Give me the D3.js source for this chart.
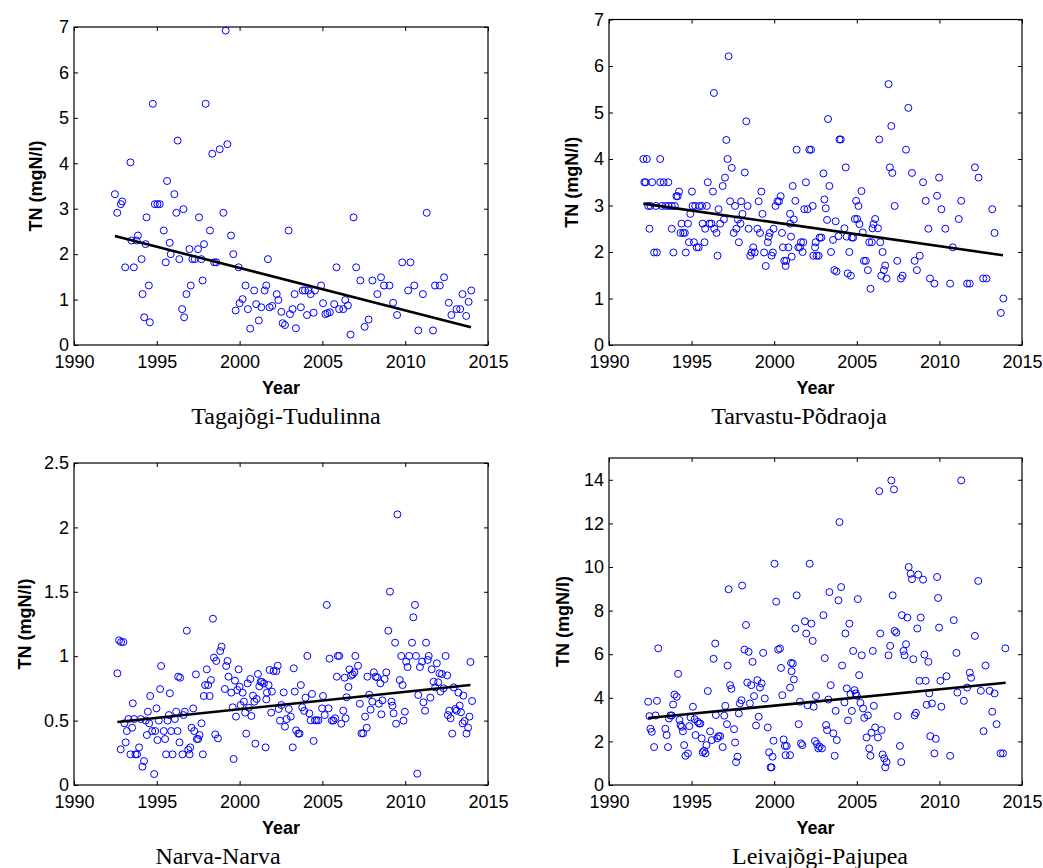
<!DOCTYPE html>
<html><head><meta charset="utf-8">
<script src="https://cdn.jsdelivr.net/npm/d3@7"></script>
<style>body{margin:0;background:#fff}svg{display:block}</style>
</head><body>
<svg id="c" width="1043" height="868"></svg>
<script>
// ---------- data ----------
const xTicks = [1990, 1995, 2000, 2005, 2010, 2015];
const yTicksA = [0, 1, 2, 3, 4, 5, 6, 7];
const yTicksB = [0, 0.5, 1, 1.5, 2, 2.5];
const yTicksC = [0, 2, 4, 6, 8, 10, 12, 14];
const titles = ["Tagajõgi-Tudulinna", "Tarvastu-Põdraoja", "Narva-Narva", "Leivajõgi-Pajupea"];
const xLabel = "Year";
const yLabel = "TN (mgN/l)";

const tagajogi = [[1992.47,3.32],[1992.61,2.91],[1992.83,3.10],[1992.91,3.16],[1993.09,1.71],[1993.41,4.02],[1993.47,2.30],[1993.61,1.71],[1993.78,2.30],[1993.86,2.41],[1994.08,1.89],[1994.14,1.12],[1994.24,0.61],[1994.32,2.22],[1994.38,2.81],[1994.52,1.31],[1994.58,0.50],[1994.76,5.31],[1994.88,3.10],[1995.04,3.10],[1995.18,3.10],[1995.42,2.52],[1995.54,1.82],[1995.62,3.61],[1995.78,2.25],[1995.84,2.00],[1996.06,3.32],[1996.18,2.91],[1996.26,4.50],[1996.36,1.89],[1996.53,0.79],[1996.61,2.99],[1996.65,0.61],[1996.79,1.12],[1996.97,2.11],[1997.05,1.31],[1997.15,1.89],[1997.29,1.89],[1997.49,2.11],[1997.55,2.81],[1997.69,1.89],[1997.77,1.42],[1997.85,2.22],[1997.95,5.31],[1998.21,2.52],[1998.35,4.21],[1998.47,1.82],[1998.59,1.82],[1998.80,4.31],[1999.02,2.91],[1999.16,6.92],[1999.26,4.42],[1999.48,2.41],[1999.62,2.00],[1999.76,0.76],[1999.94,1.71],[2000.00,0.92],[2000.18,1.01],[2000.36,1.31],[2000.50,0.79],[2000.64,0.36],[2000.88,1.20],[2001.00,0.90],[2001.16,0.54],[2001.31,0.83],[2001.51,1.20],[2001.61,1.31],[2001.71,1.89],[2001.81,0.83],
[2001.97,0.86],[2002.24,1.12],[2002.34,0.99],[2002.52,0.73],[2002.60,0.48],[2002.74,0.44],[2002.96,2.52],[2003.04,0.68],[2003.20,0.79],[2003.32,1.12],[2003.40,0.37],[2003.70,0.83],[2003.81,1.20],[2003.95,1.20],[2004.07,0.66],[2004.15,1.20],[2004.29,1.12],[2004.47,0.71],[2004.55,1.20],[2004.92,1.31],[2005.04,0.92],[2005.18,0.68],[2005.30,0.70],[2005.45,0.72],[2005.71,0.90],[2005.85,1.71],[2006.01,0.79],[2006.26,0.79],[2006.38,0.99],[2006.54,0.87],[2006.70,0.23],[2006.88,2.81],[2007.04,1.71],[2007.29,1.42],[2007.55,0.40],[2007.79,0.56],[2008.02,1.42],[2008.32,1.12],[2008.54,1.49],[2008.72,1.31],[2009.05,1.31],[2009.27,0.93],[2009.51,0.66],[2009.82,1.82],[2010.18,1.20],[2010.32,1.82],[2010.55,1.31],[2010.79,0.32],[2011.07,1.12],[2011.30,2.91],[2011.68,0.32],[2011.80,1.31],[2012.09,1.31],[2012.35,1.49],[2012.63,0.93],[2012.79,0.66],[2013.10,0.79],[2013.32,0.79],[2013.46,1.12],[2013.68,0.64],[2013.83,0.95],[2013.99,1.20]];
const tagajogiTrend = [[1992.47,2.40],[2013.97,0.39]];

const tarvastu = [[1992.08,4.00],[1992.29,4.00],[1992.14,3.50],[1992.22,3.50],[1992.37,2.99],[1992.51,2.99],[1992.45,2.50],[1992.61,3.50],[1992.73,1.99],[1992.90,1.99],[1992.84,2.99],[1993.10,4.00],[1993.10,3.50],[1993.20,2.99],[1993.31,3.50],[1993.43,2.99],[1993.59,3.50],[1993.61,2.99],[1993.80,2.99],[1993.80,2.50],[1993.90,1.99],[1993.98,2.99],[1994.08,3.20],[1994.16,3.20],[1994.24,3.30],[1994.33,2.41],[1994.39,2.61],[1994.49,2.41],[1994.59,2.41],[1994.65,1.99],[1994.78,2.61],[1994.84,2.21],[1994.92,2.82],[1995.02,3.30],[1995.06,2.99],[1995.14,2.21],[1995.22,2.99],[1995.31,2.10],[1995.43,2.10],[1995.47,2.99],[1995.63,2.99],[1995.67,2.61],[1995.78,2.21],[1995.82,2.50],[1995.92,2.99],[1995.98,3.50],[1996.08,2.61],[1996.20,2.61],[1996.29,3.30],[1996.35,5.42],[1996.37,2.50],[1996.51,2.41],[1996.57,1.92],[1996.63,2.92],[1996.73,2.61],[1996.88,3.42],[1996.96,2.70],[1997.02,3.60],[1997.10,4.41],[1997.18,4.00],[1997.24,6.21],[1997.33,3.09],[1997.43,3.81],[1997.55,2.41],[1997.63,2.99],[1997.71,2.50],[1997.80,2.70],[1997.86,2.21],[1997.96,2.61],[1998.00,3.09],[1998.08,2.82],[1998.22,3.71],[1998.31,4.81],[1998.39,2.99],[1998.45,2.50],[1998.55,1.92],[1998.63,1.99],[1998.73,2.10],[1998.82,1.99],[1998.98,2.50],[1999.06,3.09],[1999.14,2.41],[1999.22,3.30],[1999.29,2.82],[1999.39,1.99],[1999.49,1.70],[1999.61,2.21],[1999.67,2.33],[1999.73,2.41],[1999.84,1.92],[1999.92,1.99],[1999.96,2.50],[2000.08,2.99],[2000.20,3.09],[2000.29,3.09],[2000.39,3.20],[2000.47,2.41],[2000.53,2.10],[2000.61,1.81],[2000.73,1.81],[2000.69,1.70],[2000.86,2.10],[2000.96,2.82],[2001.02,2.33],[2001.12,3.42],[2001.06,1.90],[2000.97,2.61],
[2001.19,2.70],[2001.28,3.10],[2001.36,4.20],[2001.46,2.10],[2001.56,2.10],[2001.62,2.21],[2001.72,2.00],[2001.76,2.21],[2001.82,2.92],[2001.92,3.50],[2002.02,2.92],[2002.13,4.20],[2002.23,4.20],[2002.33,2.99],[2002.37,1.92],[2002.47,2.10],[2002.51,2.21],[2002.57,1.92],[2002.69,1.92],[2002.75,2.31],[2002.85,2.31],[2002.98,3.69],[2003.04,3.13],[2003.12,2.94],[2003.20,2.69],[2003.26,4.86],[2003.34,3.42],[2003.44,2.00],[2003.56,2.26],[2003.64,1.61],[2003.72,2.66],[2003.77,1.58],[2003.89,2.34],[2003.95,4.42],[2004.03,4.42],[2004.25,2.51],[2004.33,3.82],[2004.39,2.33],[2004.45,1.54],[2004.55,2.00],[2004.64,1.49],[2004.70,2.31],[2004.78,2.31],[2004.88,2.71],[2004.96,3.10],[2005.02,2.71],[2005.10,2.99],[2005.16,2.60],[2005.28,3.31],[2005.36,2.42],[2005.43,1.81],[2005.55,1.81],[2005.67,1.61],[2005.75,2.21],[2005.83,1.21],[2005.91,2.21],[2005.95,2.51],[2006.01,2.60],[2006.11,2.71],[2006.28,2.51],[2006.36,4.42],[2006.42,2.21],[2006.48,1.49],[2006.56,2.00],[2006.64,1.61],[2006.72,1.71],[2006.80,1.43],[2006.92,5.61],[2007.00,3.82],[2007.09,4.71],[2007.15,3.70],[2007.29,2.99],[2007.45,1.81],[2007.67,1.43],[2007.77,1.49],[2007.98,4.20],[2008.12,5.10],[2008.34,3.70],[2008.50,1.81],[2008.64,1.61],[2008.81,1.92],[2009.01,3.50],[2009.17,3.10],[2009.33,2.50],[2009.43,1.43],[2009.70,1.32],[2009.86,3.21],[2009.98,3.60],[2010.12,2.92],[2010.36,2.50],[2010.65,1.32],[2010.81,2.10],[2011.17,2.71],[2011.32,3.10],[2011.68,1.32],[2011.84,1.32],[2012.15,3.82],[2012.37,3.60],[2012.65,1.43],[2012.85,1.43],[2013.20,2.92],[2013.34,2.41],[2013.72,0.69],[2013.87,1.00]];
const tarvastuTrend = [[1992.08,3.04],[2013.85,1.93]];

const narva = [[1992.62,0.867],[1992.72,1.123],[1992.84,1.110],[1992.98,1.110],[1992.82,0.277],[1993.04,0.479],[1993.12,0.331],[1993.19,0.419],[1993.29,0.512],[1993.41,0.238],[1993.51,0.445],[1993.55,0.634],[1993.63,0.512],[1993.71,0.238],[1993.81,0.238],[1993.93,0.292],[1994.03,0.512],[1994.13,0.142],[1994.23,0.186],[1994.33,0.500],[1994.40,0.388],[1994.46,0.569],[1994.54,0.479],[1994.60,0.691],[1994.72,0.419],[1994.84,0.085],[1994.90,0.419],[1994.98,0.595],[1995.04,0.349],[1995.12,0.500],[1995.20,0.745],[1995.26,0.924],[1995.42,0.419],[1995.50,0.357],[1995.56,0.238],[1995.65,0.500],[1995.73,0.543],[1995.79,0.712],[1995.87,0.419],[1995.95,0.238],[1996.09,0.512],[1996.17,0.569],[1996.25,0.419],[1996.29,0.841],[1996.37,0.331],[1996.41,0.833],[1996.55,0.238],[1996.61,0.543],[1996.69,0.569],[1996.81,1.198],[1996.90,0.274],[1996.98,0.238],[1997.02,0.292],[1997.10,0.445],[1997.20,0.595],[1997.26,0.419],[1997.36,0.859],[1997.42,0.357],[1997.50,0.357],[1997.58,0.388],[1997.70,0.479],[1997.78,0.238],[1997.84,0.691],[1997.92,0.776],[1998.02,0.898],[1998.10,0.776],[1998.19,0.691],[1998.27,0.815],[1998.39,1.291],[1998.45,0.989],[1998.53,0.393],[1998.59,0.963],[1998.69,0.362],[1998.83,1.040],[1998.91,1.074],[1999.11,0.745],[1999.19,0.924],[1999.27,0.963],[1999.33,0.841],[1999.50,0.717],[1999.58,0.603],[1999.64,0.202],[1999.72,0.810],[1999.78,0.531],[1999.86,0.738],[1999.94,0.898],[2000.00,0.763],[2000.06,0.621],[2000.18,0.717],[2000.26,0.647],[2000.34,0.562],[2000.40,0.399],[2000.48,0.789],[2000.56,0.600],[2000.65,0.823],[2000.71,0.536],[2000.81,0.694],[2000.89,0.647],[2000.95,0.321],[2001.03,0.668],[2001.11,0.862],[2001.19,0.766],[2001.27,0.802],[2001.35,0.800],[2001.47,0.789],[2001.57,0.292],[2001.61,0.665],[2001.65,0.717],
[2001.81,0.893],[2001.75,0.776],[2001.95,0.725],[2002.05,0.885],[2002.22,0.885],[2002.30,0.926],[2001.91,0.562],[2002.36,0.590],[2002.44,0.500],[2002.52,0.621],[2002.66,0.719],[2002.74,0.453],[2002.84,0.512],[2002.97,0.590],[2003.09,0.531],[2003.21,0.292],[2003.27,0.906],[2003.33,0.725],[2003.41,0.424],[2003.54,0.399],[2003.62,0.399],[2003.70,0.776],[2003.78,0.603],[2003.90,0.575],[2003.98,0.678],[2004.09,1.002],[2004.21,0.556],[2004.29,0.502],[2004.37,0.707],[2004.47,0.342],[2004.55,0.502],[2004.65,0.502],[2004.76,0.502],[2004.98,0.595],[2005.04,0.691],[2005.14,0.543],[2005.26,1.398],[2005.37,0.595],[2005.43,0.981],[2005.57,0.500],[2005.67,0.500],[2005.77,0.518],[2005.87,0.841],[2005.93,1.002],[2006.02,1.002],[2006.14,0.476],[2006.26,0.577],[2006.34,0.833],[2006.40,0.518],[2006.46,0.681],[2006.57,0.761],[2006.63,0.898],[2006.73,0.849],[2006.83,0.859],[2006.93,0.875],[2006.99,1.002],[2007.15,0.926],[2007.26,0.631],[2007.36,0.401],[2007.46,0.401],[2007.58,0.531],[2007.68,0.445],[2007.72,0.841],[2007.83,0.701],[2007.91,0.585],[2008.01,0.647],[2008.11,0.875],[2008.21,0.841],[2008.31,0.836],[2008.41,0.631],[2008.50,0.789],[2008.56,0.549],[2008.62,0.657],[2008.76,0.823],[2008.86,0.875],[2008.98,1.198],[2009.08,1.501],[2009.17,0.647],[2009.23,0.616],[2009.30,0.556],[2009.39,1.105],[2009.45,0.476],[2009.53,2.101],[2009.67,0.815],[2009.76,1.002],[2009.84,0.776],[2009.90,0.500],[2009.98,0.569],[2010.06,0.958],[2010.14,0.916],[2010.24,1.002],[2010.41,1.105],[2010.49,1.302],[2010.59,1.398],[2010.65,1.002],[2010.73,0.088],[2010.79,0.699],[2010.89,0.916],[2011.02,0.958],[2011.10,0.642],[2011.20,0.577],[2011.26,1.105],[2011.36,0.971],[2011.42,1.002],[2011.52,0.678],[2011.60,0.898],[2011.71,0.802],[2011.81,0.758],[2011.91,0.945],[2011.99,0.797],[2012.07,0.867],[2012.13,0.725],[2012.22,0.862],[2012.32,0.751],[2012.44,1.002],[2012.54,0.851],[2012.58,0.543],[2012.66,0.577],[2012.74,0.518],[2012.84,0.399],[2012.93,0.758],[2013.03,0.590],[2013.11,0.577],[2013.21,0.717],[2013.29,0.616],[2013.37,0.564],[2013.47,0.479],[2013.51,0.694],[2013.58,0.497],[2013.70,0.399],[2013.80,0.445],[2013.88,0.531],[2013.94,0.955],[2014.04,0.652]];
const narvaTrend = [[1992.62,0.489],[2013.94,0.776]];

const leivajogi = [[1992.37,3.82],[1992.45,3.16],[1992.51,2.58],[1992.59,2.44],[1992.73,1.74],[1992.82,3.19],[1992.90,3.86],[1992.98,6.27],[1993.41,2.58],[1993.49,2.29],[1993.57,1.74],[1993.63,3.05],[1993.71,3.19],[1993.80,3.19],[1993.88,3.69],[1993.96,4.15],[1994.10,4.05],[1994.18,5.10],[1994.27,2.98],[1994.33,2.75],[1994.41,2.67],[1994.47,2.46],[1994.55,1.83],[1994.63,1.34],[1994.78,1.45],[1994.86,2.70],[1994.94,3.10],[1995.08,3.59],[1995.18,3.02],[1995.24,2.29],[1995.37,2.90],[1995.45,2.82],[1995.53,2.82],[1995.61,2.14],[1995.67,1.50],[1995.76,1.57],[1995.84,1.45],[1995.90,1.83],[1995.98,4.31],[1996.12,2.46],[1996.22,2.06],[1996.33,5.79],[1996.43,6.49],[1996.47,3.21],[1996.55,2.14],[1996.63,2.24],[1996.73,2.24],[1996.88,1.74],[1996.98,3.18],[1997.04,3.63],[1997.14,2.79],[1997.18,5.48],[1997.24,8.98],[1997.33,4.58],[1997.41,4.41],[1997.57,2.56],[1997.63,1.95],[1997.69,1.05],[1997.78,1.30],[1997.86,3.28],[1997.92,3.74],[1998.02,3.89],[1998.06,9.15],[1998.20,6.21],[1998.29,7.34],[1998.37,4.70],[1998.45,6.11],[1998.53,3.74],[1998.61,4.58],[1998.69,5.65],[1998.78,4.08],[1998.90,2.73],[1998.98,4.81],[1999.06,3.13],[1999.14,4.47],[1999.24,4.66],[1999.33,6.06],[1999.43,3.97],[1999.61,2.64],[1999.69,1.50],[1999.78,0.81],[1999.84,0.81],[1999.90,1.30],[1999.96,2.03],[2000.02,10.15],[2000.12,8.41],[2000.24,6.21],[2000.35,6.26],[2000.41,5.37],[2000.49,4.12],[2000.57,2.09],[2000.65,1.79],[2000.76,1.79],[2000.69,1.37],[2000.96,4.47],[2001.02,5.60],[2000.96,1.37],
[2001.05,5.22],[2001.13,5.57],[2001.19,4.84],[2001.28,7.18],[2001.36,8.70],[2001.48,2.79],[2001.56,3.82],[2001.62,1.91],[2001.70,1.83],[2001.86,7.51],[2001.94,6.95],[2002.02,3.66],[2002.15,10.15],[2002.25,7.40],[2002.33,6.61],[2002.39,3.59],[2002.47,2.02],[2002.53,4.08],[2002.59,1.88],[2002.67,1.68],[2002.75,1.76],[2002.89,1.68],[2002.98,7.79],[2003.06,5.82],[2003.14,2.75],[2003.20,2.52],[2003.28,3.92],[2003.34,8.85],[2003.42,4.58],[2003.58,2.37],[2003.66,1.34],[2003.72,3.40],[2003.79,2.06],[2003.89,8.47],[2003.95,12.06],[2004.05,9.08],[2004.11,5.48],[2004.25,3.79],[2004.31,6.95],[2004.39,4.43],[2004.47,2.96],[2004.55,7.40],[2004.62,4.17],[2004.70,3.40],[2004.78,6.15],[2004.86,4.35],[2004.94,4.20],[2005.00,4.09],[2005.06,8.53],[2005.14,5.04],[2005.22,3.77],[2005.30,5.95],[2005.38,3.51],[2005.45,3.08],[2005.59,2.18],[2005.67,3.19],[2005.75,1.68],[2005.83,1.34],[2005.89,2.40],[2005.97,6.15],[2006.03,3.63],[2006.11,2.64],[2006.28,2.18],[2006.36,13.48],[2006.42,6.95],[2006.50,2.52],[2006.56,1.40],[2006.66,1.22],[2006.72,0.81],[2006.80,1.05],[2006.92,5.95],[2007.02,6.38],[2007.09,13.97],[2007.17,8.70],[2007.25,13.56],[2007.29,7.07],[2007.39,6.99],[2007.47,3.16],[2007.61,1.79],[2007.69,1.05],[2007.73,7.79],[2007.83,6.15],[2007.89,5.95],[2007.98,6.46],[2008.06,7.68],[2008.14,10.00],[2008.26,9.69],[2008.34,9.44],[2008.42,5.77],[2008.50,3.19],[2008.58,3.31],[2008.66,7.18],[2008.72,9.65],[2008.79,4.78],[2008.87,7.68],[2009.01,9.42],[2009.09,5.98],[2009.17,4.78],[2009.23,3.68],[2009.33,5.65],[2009.39,4.20],[2009.45,2.24],[2009.55,3.74],[2009.70,1.45],[2009.78,2.12],[2009.86,9.54],[2009.92,8.58],[2009.98,7.22],[2010.06,4.78],[2010.12,3.59],[2010.43,4.99],[2010.65,1.34],[2010.87,7.56],[2011.03,6.06],[2011.09,4.24],[2011.32,13.97],[2011.48,3.86],[2011.68,4.47],[2011.84,5.15],[2011.92,4.92],[2012.15,6.84],[2012.35,9.36],[2012.51,4.32],[2012.67,2.47],[2012.79,5.48],[2013.04,4.32],[2013.20,3.36],[2013.34,4.20],[2013.46,2.79],[2013.70,1.45],[2013.85,1.45],[2013.99,6.27]];
const leivajogiTrend = [[1992.37,3.07],[2014.01,4.69]];

// ---------- layout ----------
const panels = [
  {data: tagajogi,  trend: tagajogiTrend,  title: titles[0], ticks: yTicksA, ymax: 7,   l: 74,  r: 488,  t: 27,   b: 345, titleX: 286, ylX: 36},
  {data: tarvastu,  trend: tarvastuTrend,  title: titles[1], ticks: yTicksA, ymax: 7,   l: 609, r: 1022, t: 19.5, b: 345, titleX: 799, ylX: 572},
  {data: narva,     trend: narvaTrend,     title: titles[2], ticks: yTicksB, ymax: 2.5, l: 74,  r: 488,  t: 463,  b: 785, titleX: 218, ylX: 25},
  {data: leivajogi, trend: leivajogiTrend, title: titles[3], ticks: yTicksC, ymax: 15,  l: 609, r: 1022, t: 458,  b: 785, titleX: 820, ylX: 563}
];

const svg = d3.select("#c");
const SANS = "'Liberation Sans', Arial, Helvetica, sans-serif";
const SERIF = "'Liberation Serif', 'Times New Roman', serif";

panels.forEach(p => {
  const g = svg.append("g");
  const x = d3.scaleLinear().domain([1990, 2015]).range([p.l, p.r]);
  const y = d3.scaleLinear().domain([0, p.ymax]).range([p.b, p.t]);

  const styleAxis = sel => {
    sel.select(".domain").remove();
    sel.selectAll("line").attr("stroke", "#000").attr("stroke-width", 1);
    sel.selectAll("text").attr("fill", "#000").style("font-family", SANS).style("font-size", "18px");
  };

  g.append("g").attr("transform", `translate(0,${p.b})`)
    .call(d3.axisBottom(x).tickValues(xTicks).tickSize(-4).tickSizeOuter(0).tickPadding(10.5).tickFormat(d3.format("d")))
    .call(styleAxis);
  g.append("g").attr("transform", `translate(0,${p.t})`)
    .call(d3.axisTop(x).tickValues(xTicks).tickSize(-4).tickSizeOuter(0).tickFormat(""))
    .call(styleAxis);
  g.append("g").attr("transform", `translate(${p.l},0)`)
    .call(d3.axisLeft(y).tickValues(p.ticks).tickSize(-4).tickSizeOuter(0).tickPadding(5).tickFormat(d3.format("~g")))
    .call(styleAxis);
  g.append("g").attr("transform", `translate(${p.r},0)`)
    .call(d3.axisRight(y).tickValues(p.ticks).tickSize(-4).tickSizeOuter(0).tickFormat(""))
    .call(styleAxis);

  g.append("rect").attr("x", p.l).attr("y", p.t).attr("width", p.r - p.l).attr("height", p.b - p.t)
    .attr("fill", "none").attr("stroke", "#000").attr("stroke-width", 1.2);

  g.append("g").selectAll("circle").data(p.data).join("circle")
    .attr("cx", d => x(d[0])).attr("cy", d => y(d[1])).attr("r", 3.5)
    .attr("fill", "none").attr("stroke", "#0000ff").attr("stroke-width", 1);

  g.append("path").datum(p.trend)
    .attr("d", d3.line().x(d => x(d[0])).y(d => y(d[1])))
    .attr("fill", "none").attr("stroke", "#000").attr("stroke-width", 2.6);

  g.append("text").attr("x", (p.l + p.r) / 2).attr("y", p.b + 49)
    .attr("text-anchor", "middle").style("font-family", SANS).style("font-size", "18px").style("font-weight", "bold")
    .text(xLabel);

  g.append("text").attr("transform", `translate(${p.ylX},${(p.t + p.b) / 2}) rotate(-90)`)
    .attr("text-anchor", "middle").attr("dy", "0.35em")
    .style("font-family", SANS).style("font-size", "18px").style("font-weight", "bold")
    .text(yLabel);

  g.append("text").attr("x", p.titleX).attr("y", p.b + 79)
    .attr("text-anchor", "middle").style("font-family", SERIF).style("font-size", "24px")
    .text(p.title);
});
</script>
</body></html>
